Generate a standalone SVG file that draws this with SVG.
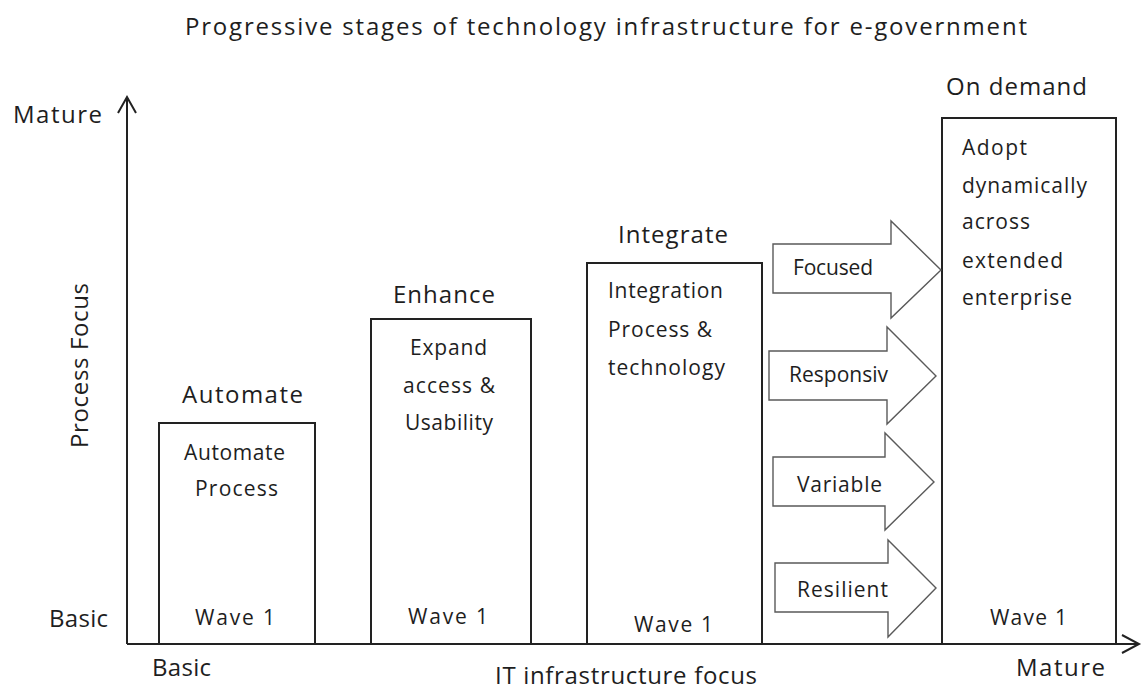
<svg xmlns="http://www.w3.org/2000/svg" width="1142" height="690" viewBox="0 0 1142 690">
<style>
text{font-family:"Open Sans","Noto Sans","Liberation Sans",sans-serif;fill:#1e1e1e}
.big{font-size:24px}
.in{font-size:21px}
.box{fill:#fff;stroke:#222;stroke-width:2}
.arr{fill:#fff;stroke:#5a5a5a;stroke-width:1.4}
.axis{stroke:#222;stroke-width:2;fill:none}
</style>
<rect width="1142" height="690" fill="#fff"/>
<text class="big" x="185" y="35" textLength="842" lengthAdjust="spacing">Progressive stages of technology infrastructure for e-government</text>
<g id="axes">
<line class="axis" x1="127" y1="644" x2="127" y2="98"/>
<polyline class="axis" points="118,113 127,97 136,113" stroke-width="1.6"/>
<line class="axis" x1="127" y1="644" x2="1138" y2="644"/>
<polyline class="axis" points="1122,635 1139,644 1122,653" stroke-width="1.6"/>
<text class="big" x="13" y="123" textLength="89" lengthAdjust="spacing">Mature</text>
<text class="big" x="49" y="627" textLength="59" lengthAdjust="spacing">Basic</text>
<text class="big" x="152" y="676" textLength="59" lengthAdjust="spacing">Basic</text>
<text class="big" x="1016" y="676" textLength="89" lengthAdjust="spacing">Mature</text>
<text class="big" x="495" y="684" textLength="262" lengthAdjust="spacing">IT infrastructure focus</text>
<text class="big" transform="translate(88,448) rotate(-90)" x="0" y="0" textLength="165" lengthAdjust="spacing">Process Focus</text>
</g>
<g id="automate">
<rect class="box" x="159" y="423" width="156" height="221"/>
<text class="big" x="182" y="403" textLength="121" lengthAdjust="spacing">Automate</text>
<text class="in" x="184" y="460" textLength="101" lengthAdjust="spacing">Automate</text>
<text class="in" x="195" y="496" textLength="83" lengthAdjust="spacing">Process</text>
<text class="in" x="195" y="625" textLength="80" lengthAdjust="spacing">Wave 1</text>
</g>
<g id="enhance">
<rect class="box" x="371" y="319" width="160" height="325"/>
<text class="big" x="393" y="303" textLength="102" lengthAdjust="spacing">Enhance</text>
<text class="in" x="410" y="355" textLength="77" lengthAdjust="spacing">Expand</text>
<text class="in" x="403" y="393" textLength="92" lengthAdjust="spacing">access &amp;</text>
<text class="in" x="405" y="430" textLength="88" lengthAdjust="spacing">Usability</text>
<text class="in" x="408" y="624" textLength="80" lengthAdjust="spacing">Wave 1</text>
</g>
<g id="integrate">
<rect class="box" x="587" y="263" width="175" height="381"/>
<text class="big" x="618" y="243" textLength="110" lengthAdjust="spacing">Integrate</text>
<text class="in" x="608" y="298" textLength="115" lengthAdjust="spacing">Integration</text>
<text class="in" x="608" y="337" textLength="104" lengthAdjust="spacing">Process &amp;</text>
<text class="in" x="608" y="375" textLength="117" lengthAdjust="spacing">technology</text>
<text class="in" x="634" y="632" textLength="79" lengthAdjust="spacing">Wave 1</text>
</g>
<g id="ondemand">
<rect class="box" x="942" y="118" width="174" height="526"/>
<text class="big" x="946" y="95" textLength="141" lengthAdjust="spacing">On demand</text>
<text class="in" x="962" y="155" textLength="65" lengthAdjust="spacing">Adopt</text>
<text class="in" x="962" y="193" textLength="125" lengthAdjust="spacing">dynamically</text>
<text class="in" x="962" y="229" textLength="68" lengthAdjust="spacing">across</text>
<text class="in" x="962" y="268" textLength="101" lengthAdjust="spacing">extended</text>
<text class="in" x="962" y="305" textLength="110" lengthAdjust="spacing">enterprise</text>
<text class="in" x="990" y="625" textLength="77" lengthAdjust="spacing">Wave 1</text>
</g>
<g id="connectors">
<g id="focused">
<polygon class="arr" points="773,244 891,244 891,221 941,270 891,318 891,293 773,293"/>
<text class="in" x="793" y="275" textLength="80" lengthAdjust="spacing">Focused</text>
</g>
<g id="responsive">
<polygon class="arr" points="769,351 887,351 887,327 936,376 887,424 887,400 769,400"/>
<text class="in" x="789" y="382" textLength="99" lengthAdjust="spacing">Responsiv</text>
</g>
<g id="variable">
<polygon class="arr" points="773,457 885,457 885,433 934,482 885,530 885,506 773,506"/>
<text class="in" x="797" y="492" textLength="85" lengthAdjust="spacing">Variable</text>
</g>
<g id="resilient">
<polygon class="arr" points="775,563 888,563 888,540 936,588 888,637 888,612 775,612"/>
<text class="in" x="797" y="597" textLength="91" lengthAdjust="spacing">Resilient</text>
</g>
</g>
</svg>
